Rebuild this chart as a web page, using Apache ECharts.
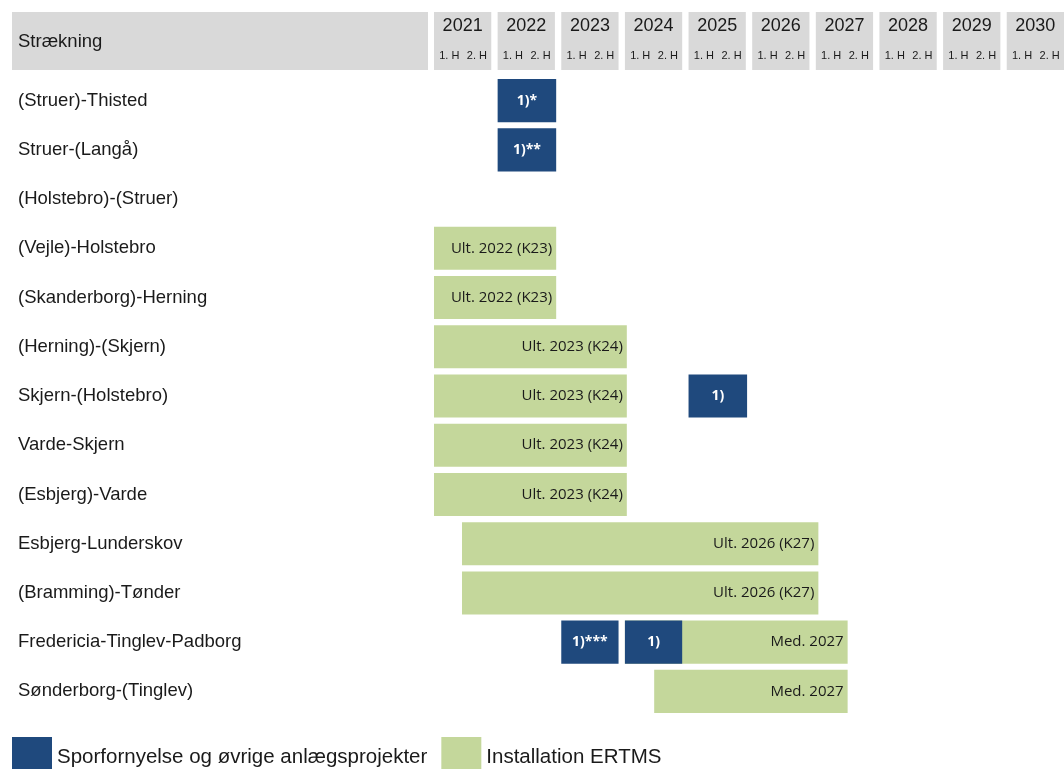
<!DOCTYPE html>
<html>
<head>
<meta charset="utf-8">
<script src="https://cdn.jsdelivr.net/npm/echarts@6/dist/echarts.min.js"></script>
<style>
html, body { margin: 0; padding: 0; background: #fff; }
#graphics { width: 1064px; height: 769px; }
</style>
</head>
<body>
<div id="graphics"></div>
<script>
// Rows of the plan (top to bottom)
const routes = [
    '(Struer)-Thisted', 'Struer-(Langå)', '(Holstebro)-(Struer)', '(Vejle)-Holstebro',
    '(Skanderborg)-Herning', '(Herning)-(Skjern)', 'Skjern-(Holstebro)', 'Varde-Skjern',
    '(Esbjerg)-Varde', 'Esbjerg-Lunderskov', '(Bramming)-Tønder',
    'Fredericia-Tinglev-Padborg', 'Sønderborg-(Tinglev)'
];
const years = [2021, 2022, 2023, 2024, 2025, 2026, 2027, 2028, 2029, 2030];
const halves = ['1. H', '2. H'];

// [row, start, end, label], time in years
const renewalTasks = [
    [0, 2022, 2022.92, '1)*'],
    [1, 2022, 2022.92, '1)**'],
    [6, 2025, 2025.92, '1)'],
    [11, 2023, 2023.9, '1)***'],
    [11, 2024, 2024.9, '1)']
];
const ertmsTasks = [
    [3, 2021, 2022.92, 'Ult. 2022 (K23)'],
    [4, 2021, 2022.92, 'Ult. 2022 (K23)'],
    [5, 2021, 2024.03, 'Ult. 2023 (K24)'],
    [6, 2021, 2024.03, 'Ult. 2023 (K24)'],
    [7, 2021, 2024.03, 'Ult. 2023 (K24)'],
    [8, 2021, 2024.03, 'Ult. 2023 (K24)'],
    [9, 2021.44, 2027.04, 'Ult. 2026 (K27)'],
    [10, 2021.44, 2027.04, 'Ult. 2026 (K27)'],
    [11, 2024, 2027.5, 'Med. 2027'],
    [12, 2024.46, 2027.5, 'Med. 2027']
];

const seriesNames = ['Sporfornyelse og øvrige anlægsprojekter', 'Installation ERTMS'];
const DARK = '#1f497d';
const GREEN = '#c4d79b';
const FONT = '"Liberation Sans", Arial, sans-serif';

function makeRender(tasks, fill, textColor, align) {
    return function (params, api) {
        const task = tasks[params.dataIndex];
        const x0 = api.coord([task[1], task[0]])[0];
        const x1 = api.coord([task[2], task[0]])[0];
        const cy = api.coord([task[1], task[0]])[1];
        const h = api.size([0, 1])[1] * 0.875;
        return {
            type: 'group',
            children: [{
                type: 'rect',
                shape: { x: x0, y: cy - h / 2, width: x1 - x0, height: h },
                style: { fill: fill }
            }, {
                type: 'text',
                x: align === 'center' ? (x0 + x1) / 2 : x1 - 4,
                y: cy,
                style: {
                    text: task[3],
                    fill: textColor,
                    align: align,
                    verticalAlign: 'middle',
                    font: (align === 'center' ? 'bold 14px' : '15px') + ' "Open Sans", sans-serif'
                }
            }]
        };
    };
}

var myChart = echarts.init(document.getElementById('graphics'));

var option = {
    animation: false,
    color: [DARK, GREEN],
    grid: { left: 434, top: 76, right: 0, height: 640 },
    xAxis: {
        type: 'value', min: 2021, max: 2030.9, show: false
    },
    yAxis: {
        type: 'category',
        data: routes,
        inverse: true,
        axisLine: { show: false },
        axisTick: { show: false },
        splitLine: { show: false },
        axisLabel: {
            align: 'left',
            margin: 416,
            color: '#1a1a1a',
            fontSize: 18.5,
            fontFamily: FONT
        }
    },
    legend: {
        left: 12,
        top: 737,
        padding: 0,
        itemWidth: 40,
        itemHeight: 40,
        itemGap: 14,
        icon: 'rect',
        textStyle: { fontSize: 20.5, color: '#1a1a1a', fontFamily: FONT },
        data: seriesNames
    },
    series: [{
        name: seriesNames[1],
        type: 'custom',
        itemStyle: { color: GREEN },
        renderItem: makeRender(ertmsTasks, GREEN, '#1a1a1a', 'right'),
        encode: { x: [1, 2], y: 0 },
        data: ertmsTasks.map(t => [t[0], t[1], t[2]])
    }, {
        name: seriesNames[0],
        type: 'custom',
        itemStyle: { color: DARK },
        renderItem: makeRender(renewalTasks, DARK, '#ffffff', 'center'),
        encode: { x: [1, 2], y: 0 },
        data: renewalTasks.map(t => [t[0], t[1], t[2]])
    }]
};

myChart.setOption(option);

// header: grey boxes with years and half-years
const pitch = myChart.convertToPixel({ xAxisIndex: 0 }, 2022) - myChart.convertToPixel({ xAxisIndex: 0 }, 2021);
const cell = pitch * 0.9;
const header = [{
    type: 'rect', shape: { x: 12, y: 12, width: 416, height: 58 }, style: { fill: '#d9d9d9' }
}, {
    type: 'text', x: 18, y: 42,
    style: { text: 'Strækning', fill: '#1a1a1a', verticalAlign: 'middle', font: '18.5px ' + FONT }
}];
years.forEach(function (yr) {
    const x = myChart.convertToPixel({ xAxisIndex: 0 }, yr);
    header.push({ type: 'rect', shape: { x: x, y: 12, width: cell, height: 58 }, style: { fill: '#d9d9d9' } });
    header.push({
        type: 'text', x: x + cell / 2, y: 26,
        style: { text: String(yr), fill: '#1a1a1a', align: 'center', verticalAlign: 'middle', font: '18px ' + FONT }
    });
    halves.forEach(function (hl, i) {
        header.push({
            type: 'text', x: x + cell * (i + 0.5) / 2 + (i ? 0 : 1), y: 56,
            style: { text: hl, fill: '#1a1a1a', align: 'center', verticalAlign: 'middle', font: '11px ' + FONT }
        });
    });
});
myChart.setOption({ graphic: header });
</script>
</body>
</html>
